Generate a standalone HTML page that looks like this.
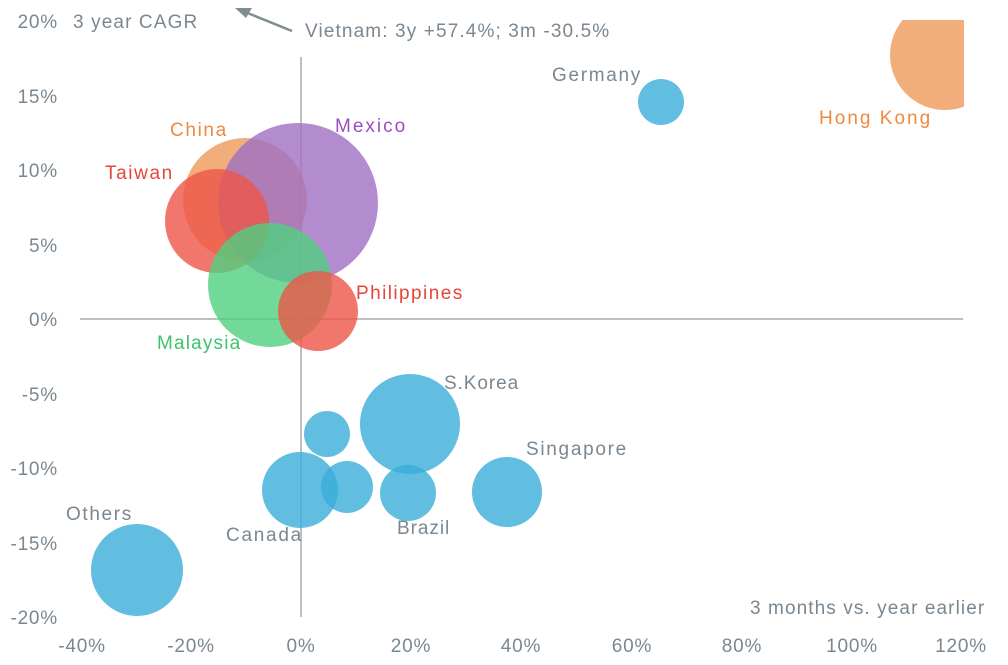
<!DOCTYPE html>
<html><head><style>
html,body{margin:0;padding:0;background:#fff;}
svg{display:block;font-family:"Liberation Sans",sans-serif;}
text{fill:#7A8791;font-size:19px;letter-spacing:0.8px;}
circle{opacity:0.8;}
</style></head><body>
<svg width="1008" height="665" viewBox="0 0 1008 665">
<defs><clipPath id="c"><rect x="0" y="20" width="964" height="640"/></clipPath></defs>
<line x1="301" y1="57" x2="301" y2="617" stroke="#aaa" stroke-width="1.5"/>
<line x1="80" y1="319" x2="963" y2="319" stroke="#aaa" stroke-width="1.5"/>
<g clip-path="url(#c)">
<circle cx="945" cy="55" r="55" fill="#EE9A5A"/>
<circle cx="661" cy="102" r="23" fill="#3AAED9"/>
<circle cx="245" cy="200" r="62" fill="#EE9A5A"/>
<circle cx="298" cy="203" r="80" fill="#A06FC4"/>
<circle cx="217" cy="221" r="52" fill="#EE5548"/>
<circle cx="270" cy="285" r="62" fill="#4FCF7E"/>
<circle cx="318" cy="311" r="40" fill="#EE5548"/>
<circle cx="410" cy="424" r="50" fill="#3AAED9"/>
<circle cx="327" cy="434" r="23" fill="#3AAED9"/>
<circle cx="300" cy="490" r="38" fill="#3AAED9"/>
<circle cx="347" cy="487" r="26" fill="#3AAED9"/>
<circle cx="408" cy="493" r="28" fill="#3AAED9"/>
<circle cx="507" cy="492" r="35" fill="#3AAED9"/>
<circle cx="137" cy="570" r="46" fill="#3AAED9"/>
</g>
<g text-anchor="end">
<text x="58" y="28">20%</text><text x="58" y="103">15%</text><text x="58" y="177">10%</text>
<text x="58" y="252">5%</text><text x="58" y="326">0%</text><text x="58" y="401">-5%</text>
<text x="58" y="475">-10%</text><text x="58" y="550">-15%</text><text x="58" y="624">-20%</text>
</g>
<g text-anchor="middle">
<text x="82" y="652">-40%</text><text x="191" y="652">-20%</text><text x="301" y="652">0%</text>
<text x="411" y="652">20%</text><text x="521" y="652">40%</text><text x="632" y="652">60%</text>
<text x="742" y="652">80%</text><text x="852" y="652">100%</text><text x="961" y="652">120%</text>
</g>
<text x="73" y="28" textLength="125">3 year CAGR</text>
<text x="305" y="37" textLength="305">Vietnam: 3y +57.4%; 3m -30.5%</text>
<line x1="292" y1="31" x2="245" y2="12" stroke="#7F8E8E" stroke-width="2.5"/>
<polygon points="235,8 252,8 246,18" fill="#7F8E8E"/>
<text x="750" y="614" textLength="235">3 months vs. year earlier</text>
<text x="552" y="81" textLength="89">Germany</text>
<text x="819" y="124" textLength="112" style="fill:#EE8A3F">Hong Kong</text>
<text x="170" y="136" textLength="57" style="fill:#EE8A3F">China</text>
<text x="335" y="132" textLength="71" style="fill:#9A4FBF">Mexico</text>
<text x="105" y="179" textLength="68" style="fill:#E8453A">Taiwan</text>
<text x="356" y="299" textLength="107" style="fill:#E8453A">Philippines</text>
<text x="157" y="349" textLength="84" style="fill:#3CC46A">Malaysia</text>
<text x="444" y="389" textLength="75">S.Korea</text>
<text x="526" y="455" textLength="101">Singapore</text>
<text x="66" y="520" textLength="66">Others</text>
<text x="226" y="541" textLength="76">Canada</text>
<text x="397" y="534" textLength="53">Brazil</text>
</svg>
</body></html>
